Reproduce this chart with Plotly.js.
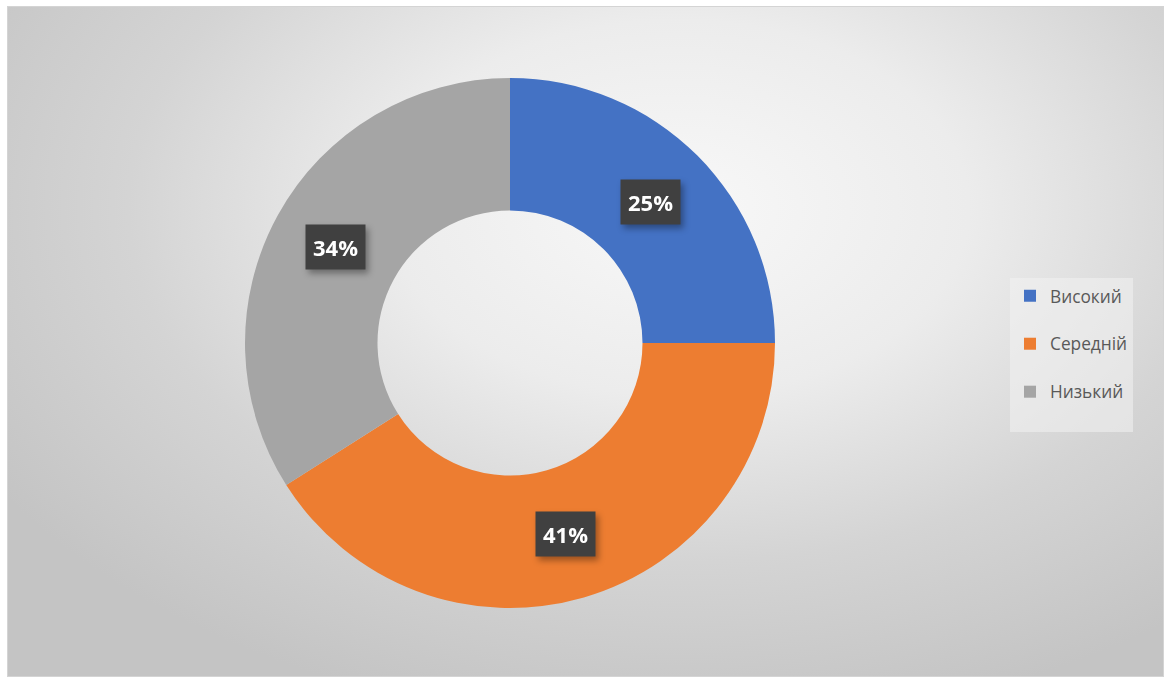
<!DOCTYPE html>
<html>
<head>
<meta charset="utf-8">
<script src="https://cdn.plot.ly/plotly-3.0.1.min.js"></script>
<style>
  html, body { margin: 0; padding: 0; background: #ffffff; width: 1169px; height: 679px; overflow: hidden; }
  #frame {
    position: absolute; left: 7px; top: 6px; width: 1155px; height: 669px;
    border: 1px solid #d4d4d4;
    background: radial-gradient(ellipse 70% 78% at 58% 30%, #f8f8f8 0%, #ececec 36%, #d4d4d4 68%, #c4c4c4 100%);
  }
  #chart { position: absolute; left: 0; top: 0; width: 1169px; height: 679px; }
  .annotation { filter: drop-shadow(3px 4px 3px rgba(0,0,0,0.35)); }
</style>
</head>
<body>
<div id="frame"></div>
<div id="chart"></div>
<script>
const labels = ["Високий", "Середній", "Низький"];
const values = [25, 41, 34];
const colors = ["#4472C4", "#ED7D31", "#A5A5A5"];

const W = 1169, H = 679;
const cx = 510, cy = 343, R = 265, hole = 0.5;
const dom = {
  x: [(cx - R) / W, (cx + R) / W],
  y: [(H - cy - R) / H, (H - cy + R) / H]
};

const total = values.reduce((a, b) => a + b, 0);
const rMid = R * (1 + hole) / 2;
let cum = 0;
const annotations = values.map((v, i) => {
  const mid = (cum + v / 2) / total * 2 * Math.PI;
  cum += v;
  const px = cx + rMid * Math.sin(mid);
  const py = cy - rMid * Math.cos(mid);
  return {
    xref: "paper", yref: "paper",
    x: px / W, y: (H - py) / H,
    xanchor: "center", yanchor: "middle",
    text: "<b>" + Math.round(v / total * 100) + "%</b>",
    showarrow: false,
    font: { family: "Open Sans, Liberation Sans, sans-serif", size: 22, color: "#ffffff" },
    bgcolor: "#404040",
    borderpad: 7
  };
});

const trace = {
  type: "pie",
  labels: labels.map(l => l + "<br> "),
  values: values,
  hole: hole,
  sort: false,
  direction: "clockwise",
  rotation: 0,
  textinfo: "none",
  hoverinfo: "label+percent",
  marker: { colors: colors, line: { width: 0 } },
  domain: dom
};

const layout = {
  width: W, height: H,
  margin: { l: 0, r: 0, t: 0, b: 0 },
  paper_bgcolor: "rgba(0,0,0,0)",
  plot_bgcolor: "rgba(0,0,0,0)",
  showlegend: true,
  legend: {
    x: 1010 / W, y: (H - 355) / H,
    xanchor: "left", yanchor: "middle",
    valign: "top",
    bgcolor: "rgba(242,242,242,0.55)",
    font: { family: "Open Sans, Liberation Sans, sans-serif", size: 17.3, color: "#595959" },
    itemwidth: 30
  },
  annotations: annotations
};

Plotly.newPlot("chart", [trace], layout, { displayModeBar: false, staticPlot: true });
</script>
</body>
</html>
